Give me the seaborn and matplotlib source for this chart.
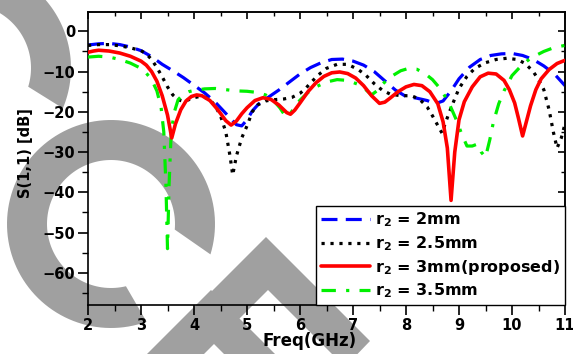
import numpy as np
import pandas as pd
import matplotlib
matplotlib.use("Agg")
import matplotlib.pyplot as plt
from matplotlib.patches import Polygon
from matplotlib.ticker import MultipleLocator
import seaborn as sns

# ---------------- data ----------------
freq_2mm = [2.0, 2.2, 2.4, 2.6, 2.8, 3.0, 3.2, 3.4, 3.6, 3.8, 4.0, 4.2, 4.4, 4.6, 4.8, 4.9,
            5.0, 5.1, 5.25, 5.4, 5.6, 5.8, 6.0, 6.2, 6.4, 6.6, 6.8, 7.0, 7.2, 7.4, 7.6, 7.8,
            8.0, 8.2, 8.4, 8.55, 8.7, 8.85, 9.0, 9.2, 9.4, 9.6, 9.8, 10.0, 10.2, 10.4, 10.6,
            10.8, 11.0]
s11_2mm = [-3.4, -3.1, -3.0, -3.3, -3.9, -4.8, -6.3, -8.2, -9.8, -11.5, -13.4, -15.3, -17.6,
           -20.4, -23.2, -23.5, -22.0, -19.8, -17.6, -16.4, -14.6, -12.6, -10.6, -9.0, -7.8,
           -7.0, -6.9, -7.4, -8.4, -10.0, -12.3, -14.6, -16.2, -16.6, -17.2, -18.0, -17.3,
           -14.8, -11.8, -8.9, -7.0, -6.0, -5.6, -5.5, -6.0, -7.0, -8.6, -10.6, -13.5]

freq_2p5mm = [2.0, 2.2, 2.4, 2.6, 2.8, 3.0, 3.1, 3.2, 3.3, 3.4, 3.5, 3.6, 3.7, 3.8, 3.9, 4.0,
              4.1, 4.2, 4.3, 4.4, 4.5, 4.6, 4.68, 4.73, 4.8, 4.9, 5.0, 5.1, 5.2, 5.35, 5.5,
              5.7, 5.85, 6.0, 6.1, 6.2, 6.35, 6.5, 6.7, 6.9, 7.1, 7.25, 7.4, 7.55, 7.7, 7.9,
              8.1, 8.25, 8.4, 8.5, 8.6, 8.68, 8.75, 8.85, 9.0, 9.15, 9.3, 9.5, 9.7, 9.9, 10.1,
              10.25, 10.4, 10.5, 10.6, 10.7, 10.78, 10.85, 10.93, 11.0]
s11_2p5mm = [-3.5, -3.3, -3.3, -3.6, -4.1, -4.8, -5.6, -7.0, -9.0, -11.3, -13.8, -15.8,
             -17.0, -17.4, -17.0, -16.5, -16.2, -16.4, -17.0, -18.5, -21.0, -25.0, -31.0,
             -35.7, -31.0, -26.5, -23.5, -20.0, -18.3, -17.3, -17.0, -16.8, -16.4, -15.4,
             -14.3, -12.8, -10.8, -9.2, -8.2, -8.2, -9.5, -11.0, -13.0, -14.6, -15.6, -16.0,
             -16.0, -16.8, -18.8, -21.0, -23.4, -25.3, -22.5, -19.0, -14.2, -11.2, -9.2,
             -7.8, -7.0, -6.7, -7.0, -8.0, -10.0, -12.0, -14.5, -19.5, -25.0, -29.0, -26.5,
             -23.0]

freq_3mm = [2.0, 2.1, 2.2, 2.4, 2.6, 2.8, 3.0, 3.1, 3.2, 3.3, 3.4, 3.5, 3.58, 3.65, 3.75,
            3.85, 3.95, 4.05, 4.15, 4.3, 4.45, 4.6, 4.7, 4.8, 4.9, 5.0, 5.15, 5.3, 5.45, 5.6,
            5.75, 5.82, 5.9, 6.0, 6.15, 6.3, 6.45, 6.6, 6.75, 6.9, 7.05, 7.2, 7.35, 7.5, 7.6,
            7.7, 7.85, 8.0, 8.15, 8.3, 8.45, 8.6, 8.7, 8.78, 8.85, 8.92, 9.0, 9.1, 9.25, 9.4,
            9.55, 9.7, 9.85, 9.95, 10.05, 10.12, 10.2, 10.28, 10.35, 10.45, 10.55, 10.7,
            10.85, 11.0]
s11_3mm = [-5.2, -4.9, -4.7, -4.9, -5.4, -6.2, -7.4, -8.4, -10.0, -12.4, -16.0, -20.8,
           -26.5, -23.0, -19.5, -17.3, -16.2, -15.8, -16.0, -17.2, -19.5, -22.2, -23.3,
           -22.3, -20.5, -19.0, -17.2, -16.5, -16.9, -18.3, -20.2, -20.6, -19.6, -17.8,
           -15.0, -12.8, -11.2, -10.3, -10.1, -10.5, -11.6, -13.5, -16.0, -17.9, -17.6,
           -16.6, -15.0, -13.8, -13.2, -13.5, -15.0, -18.0, -22.5, -29.0, -42.0, -30.0,
           -22.0, -17.5, -13.8, -11.3, -10.4, -10.6, -12.2, -14.5, -17.8, -21.5, -26.0,
           -22.0, -18.5, -14.5, -11.8, -9.5, -8.0, -7.2]

freq_3p5mm = [2.0, 2.2, 2.4, 2.6, 2.8, 3.0, 3.1, 3.2, 3.3, 3.38, 3.43, 3.47, 3.5, 3.53, 3.57,
              3.63, 3.7, 3.8, 3.9, 4.0, 4.2, 4.4, 4.6, 4.8, 5.0, 5.2, 5.35, 5.5, 5.62, 5.72,
              5.8, 5.9, 6.0, 6.15, 6.3, 6.5, 6.7, 6.9, 7.1, 7.25, 7.35, 7.45, 7.55, 7.7, 7.9,
              8.05, 8.2, 8.35, 8.5, 8.65, 8.8, 8.95, 9.05, 9.15, 9.25, 9.35, 9.42, 9.5, 9.58,
              9.65, 9.75, 9.85, 10.0, 10.15, 10.3, 10.45, 10.6, 10.8, 11.0]
s11_3p5mm = [-6.4, -6.2, -6.4, -7.0, -7.9, -9.2, -10.4, -12.0, -14.8, -19.0, -25.0, -38.0,
             -54.0, -38.0, -25.0, -20.0, -17.0, -15.6, -15.0, -14.7, -14.3, -14.2, -14.5,
             -14.8, -14.9, -15.2, -15.8, -17.2, -19.0, -21.0, -20.8, -18.8, -17.1, -15.2,
             -13.8, -12.6, -12.0, -12.2, -13.2, -14.6, -15.8, -14.8, -13.2, -11.4, -9.8,
             -9.2, -9.4, -10.4, -12.0, -14.3, -17.5, -22.0, -25.5, -28.5, -28.5, -28.0,
             -30.0, -31.3, -27.0, -22.5, -18.0, -14.8, -11.0, -8.9, -7.2, -6.0, -5.0, -4.0,
             -3.5]

labels = [r"r$_\mathbf{2}$ = 2mm", r"r$_\mathbf{2}$ = 2.5mm",
          r"r$_\mathbf{2}$ = 3mm(proposed)", r"r$_\mathbf{2}$ = 3.5mm"]
x_ticks = [2, 3, 4, 5, 6, 7, 8, 9, 10, 11]
y_ticks = [-60, -50, -40, -30, -20, -10, 0]

# ---------------- style ----------------
sns.set_theme(style="ticks")
plt.rcParams["font.family"] = ["DejaVu Sans"]
plt.rcParams["font.weight"] = "bold"
plt.rcParams["axes.labelweight"] = "bold"
plt.rcParams["mathtext.fontset"] = "custom"
plt.rcParams["mathtext.rm"] = "DejaVu Sans:bold"
plt.rcParams["mathtext.bf"] = "DejaVu Sans:bold"
plt.rcParams["mathtext.it"] = "DejaVu Sans:bold"

W, H = 573, 354
fig = plt.figure(figsize=(W / 100, H / 100), dpi=100, facecolor="white")

# ---------------- grey watermark shapes (pixel coords, y down) ----------------
GREY = "#a0a0a0"


def px(points):
    return [(x / W, 1 - y / H) for x, y in points]


def ring(cx, cy, R, r, out_a0, out_a1, in_a0, in_a1):
    a_out = np.radians(np.linspace(out_a0, out_a1, 120))
    a_in = np.radians(np.linspace(in_a0, in_a1, 120))
    pts = [(cx + R * np.cos(a), cy + R * np.sin(a)) for a in a_out]
    pts += [(cx + r * np.cos(a), cy + r * np.sin(a)) for a in a_in]
    return pts


shapes = [
    ring(111, 224, 104, 64, 17, 70 - 360, 76.5 - 360, 5),
    ring(-33, 68, 104, 64, 22.8, -200, -200, 17),
    [(116, 387), (266, 237), (370, 341), (345, 367), (268, 290), (168, 390)],
    [(61, 440), (211, 290), (361, 440), (313, 443), (213, 343), (113, 443)],
]
for s in shapes:
    fig.add_artist(Polygon(px(s), closed=True, facecolor=GREY, edgecolor="none",
                           transform=fig.transFigure, zorder=-5))

# ---------------- axes ----------------
ax = fig.add_axes([88 / W, (H - 305) / H, 477 / W, 293 / H])
ax.set_facecolor("none")

series = [
    (freq_2mm, s11_2mm, "#0000ff", (0, (5, 2.6)), 2.3, 2),
    (freq_2p5mm, s11_2p5mm, "black", (0, (1, 1.8)), 2.3, 3),
    (freq_3mm, s11_3mm, "#ff0000", "-", 2.6, 5),
    (freq_3p5mm, s11_3p5mm, "#00f000", (0, (4.5, 3.2, 1, 3.2)), 2.3, 4),
]
for (f, s, c, ls, lw, z), lab in zip(series, labels):
    df = pd.DataFrame({"freq": f, "s11": s})
    sns.lineplot(data=df, x="freq", y="s11", ax=ax, color=c, linestyle=ls,
                 linewidth=lw, label=lab, zorder=z, sort=False, estimator=None)

ax.set_xlim(2, 11)
ax.set_ylim(-68, 4.8)
ax.set_xticks(x_ticks)
ax.set_yticks(y_ticks)
ax.xaxis.set_minor_locator(MultipleLocator(0.5))
ax.yaxis.set_minor_locator(MultipleLocator(5))
ax.tick_params(which="major", direction="out", length=7, width=1.2, labelsize=10.5,
               color="black", labelcolor="black", pad=2)
ax.tick_params(which="minor", direction="out", length=4, width=1.0, color="black")
for sp in ax.spines.values():
    sp.set_color("black")
    sp.set_linewidth(1.2)
    sp.set_visible(True)

secx = ax.secondary_xaxis("top")
secx.set_xticks(x_ticks)
secx.xaxis.set_minor_locator(MultipleLocator(0.5))
secx.tick_params(which="major", direction="in", length=5, width=1.2, labeltop=False,
                 color="black")
secx.tick_params(which="minor", direction="in", length=3, width=1.0, color="black")
secx.spines["top"].set_linewidth(1.2)

secy = ax.secondary_yaxis("right")
secy.set_yticks(y_ticks)
secy.yaxis.set_minor_locator(MultipleLocator(5))
secy.tick_params(which="major", direction="in", length=5, width=1.2, labelright=False,
                 color="black")
secy.tick_params(which="minor", direction="in", length=3, width=1.0, color="black")
secy.spines["right"].set_linewidth(1.2)

ax.set_xlabel("Freq(GHz)", fontsize=12, fontweight="bold", color="black")
ax.xaxis.set_label_coords((310 - 88) / 477, -(332 - 305) / 293)
ax.set_ylabel("S(1,1) [dB]", fontsize=10.5, fontweight="bold", color="black")
ax.yaxis.set_label_coords(-(88 - 33) / 477, (305 - 153) / 293)

leg = ax.legend(loc="lower right", bbox_to_anchor=(1, 0), borderaxespad=0,
                fontsize=11.5, handlelength=3.1, handletextpad=0.3,
                labelspacing=0.3, borderpad=0.3, frameon=True, fancybox=False,
                framealpha=1, edgecolor="black", facecolor="white")
leg.get_frame().set_linewidth(1.0)
leg.set_zorder(10)
for t in leg.get_texts():
    t.set_color("black")

fig.savefig("out.png", dpi=100, facecolor="white")
